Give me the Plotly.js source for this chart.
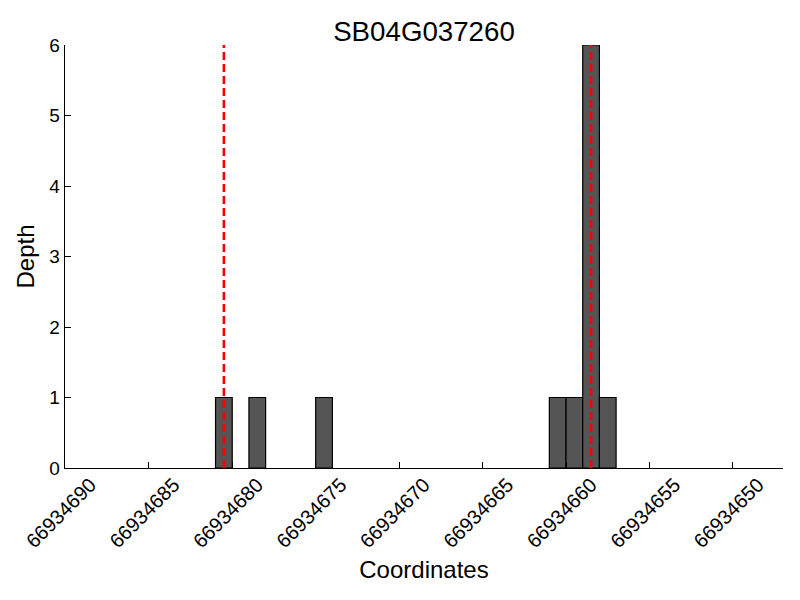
<!DOCTYPE html>
<html>
<head>
<meta charset="utf-8">
<script src="https://cdn.plot.ly/plotly-3.0.1.min.js"></script>
<style>html,body{margin:0;padding:0;background:#fff;}#chart{width:800px;height:600px;}</style>
</head>
<body>
<div id="chart"></div>
<script>
// Bin centres (coordinate) and depth for each bin of width 1
const binCenters = [66934680.5, 66934678.5, 66934674.5, 66934660.5, 66934659.5, 66934658.5, 66934657.5];
const depths = [1, 1, 1, 1, 1, 6, 1];
const binWidth = 1;
// Red dashed marker positions
const markerPositions = [66934680.5, 66934658.5];
const depthMax = 6;
// Axis ticks
const xTickValues = [66934690, 66934685, 66934680, 66934675, 66934670, 66934665, 66934660, 66934655, 66934650];
const xRange = [66934690.02, 66934647];
const yTickValues = [0, 1, 2, 3, 4, 5, 6];

const FONT = "Liberation Sans, Arial, Helvetica, sans-serif";

const traces = [{
  type: 'bar',
  x: binCenters,
  y: depths,
  width: binCenters.map(() => binWidth),
  marker: {color: '#555555', line: {color: '#000000', width: 1.2}},
  cliponaxis: false,
  hoverinfo: 'x+y',
  showlegend: false
}];
markerPositions.forEach(p => {
  traces.push({
    type: 'scatter',
    mode: 'lines',
    x: [p, p],
    y: [0, depthMax],
    line: {color: '#ff0000', width: 2.6, dash: '8px,4px'},
    cliponaxis: false,
    showlegend: false
  });
});

const layout = {
  width: 800,
  height: 600,
  paper_bgcolor: '#ffffff',
  plot_bgcolor: '#ffffff',
  margin: {l: 65, r: 17, t: 45, b: 132},
  font: {family: FONT, color: '#000000'},
  bargap: 0,
  title: {
    text: 'SB04G037260',
    font: {family: FONT, size: 27.7, color: '#000000'},
    x: 0.5, xref: 'paper', xanchor: 'center',
    y: 1 - 31/600, yref: 'container', yanchor: 'middle'
  },
  xaxis: {
    range: xRange,
    tickmode: 'array',
    tickvals: xTickValues,
    ticktext: xTickValues.map(v => String(v)),
    tickangle: -45,
    ticklabelshift: -25,
    ticklabelstandoff: -4,
    ticklabeloverflow: 'allow',
    tickfont: {family: FONT, size: 20, color: '#000000'},
    ticks: 'inside',
    ticklen: 6,
    tickwidth: 1,
    tickcolor: '#000000',
    showline: true,
    linecolor: '#000000',
    linewidth: 1.3,
    showgrid: false,
    zeroline: false,
    mirror: false,
    title: {text: 'Coordinates', font: {family: FONT, size: 24, color: '#000000'}, standoff: 10},
    automargin: false
  },
  yaxis: {
    range: [0, depthMax],
    tickmode: 'array',
    tickvals: yTickValues,
    tickfont: {family: FONT, size: 19, color: '#000000'},
    ticks: 'inside',
    ticklen: 6,
    tickwidth: 1,
    tickcolor: '#000000',
    showline: true,
    linecolor: '#000000',
    linewidth: 1.3,
    showgrid: false,
    zeroline: false,
    title: {text: 'Depth', font: {family: FONT, size: 24, color: '#000000'}, standoff: 8},
    automargin: false
  }
};

Plotly.newPlot('chart', traces, layout, {displayModeBar: false, staticPlot: true});
</script>
</body>
</html>
